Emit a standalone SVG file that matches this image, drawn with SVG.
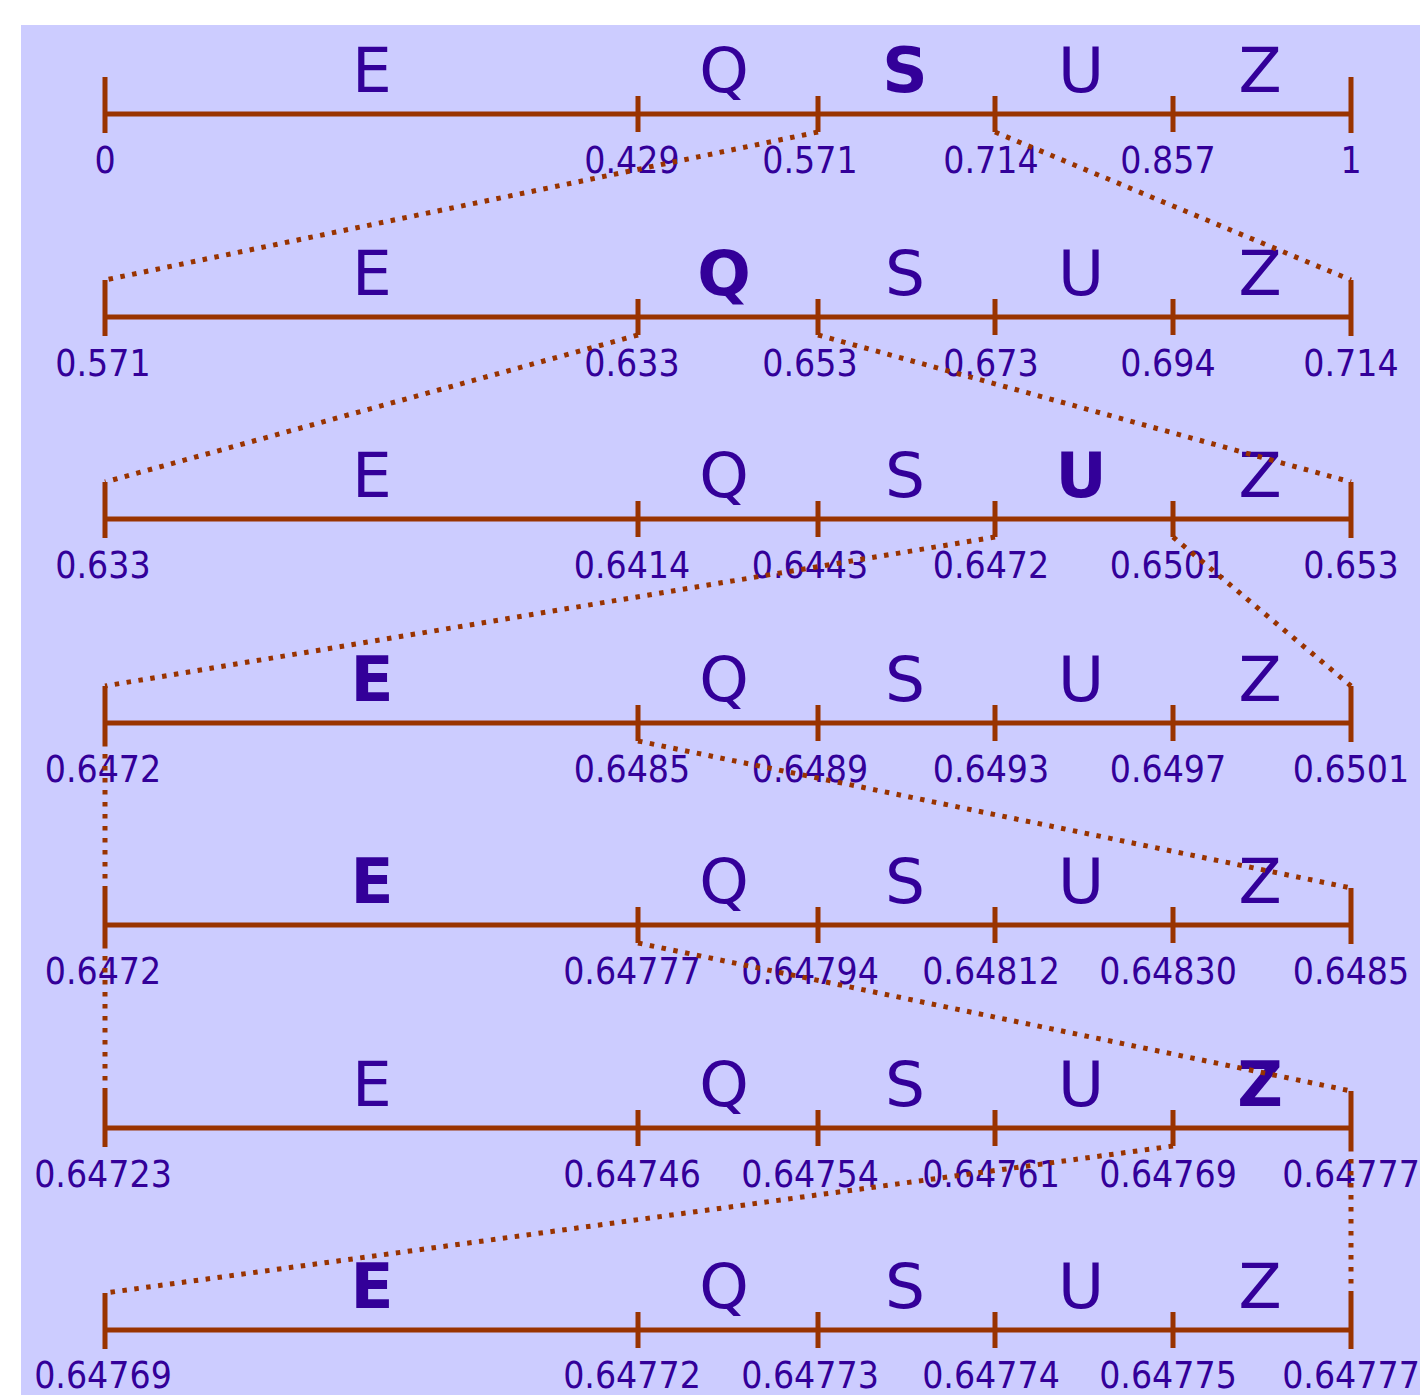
<svg xmlns="http://www.w3.org/2000/svg" width="1420" height="1395" viewBox="0 0 1420 1395">
<style>
.ax{stroke:#993300;stroke-width:5;fill:none;stroke-linecap:butt}
.lt{font-family:"DejaVu Sans",Verdana,sans-serif;font-size:63px;fill:#330099;text-anchor:middle}
.b{font-weight:bold}
.nm{font-family:"DejaVu Sans Condensed","DejaVu Sans",sans-serif;font-size:37px;fill:#330099;text-anchor:middle}
.dt{stroke:#993300;stroke-width:5;fill:none;stroke-dasharray:4.5 7.5}
</style>
<defs>
<g id="axis">
<path class="ax" d="M105 0H1351M105 -37V19M1351 -37V19M638 -18V18M818 -18V18M995 -18V18M1173 -18V18"/>
</g>
</defs>
<rect x="0" y="0" width="1420" height="1395" fill="#ffffff"/>
<rect x="21" y="25" width="1399" height="1370" fill="#ccccff"/>

<g id="row0" transform="translate(0,114)">
<use href="#axis"/>
<text class="lt" x="372" y="-22">E</text><text class="lt" x="724" y="-22">Q</text><text class="lt b" x="905" y="-22">S</text><text class="lt" x="1081" y="-22">U</text><text class="lt" x="1260" y="-22">Z</text>
<text class="nm" x="105" y="59">0</text><text class="nm" x="632" y="59">0.429</text><text class="nm" x="810" y="59">0.571</text><text class="nm" x="991" y="59">0.714</text><text class="nm" x="1168" y="59">0.857</text><text class="nm" x="1351" y="59">1</text>
</g>
<g id="row1" transform="translate(0,317)">
<use href="#axis"/>
<text class="lt" x="372" y="-22">E</text><text class="lt b" x="724" y="-22">Q</text><text class="lt" x="905" y="-22">S</text><text class="lt" x="1081" y="-22">U</text><text class="lt" x="1260" y="-22">Z</text>
<text class="nm" x="103" y="59">0.571</text><text class="nm" x="632" y="59">0.633</text><text class="nm" x="810" y="59">0.653</text><text class="nm" x="991" y="59">0.673</text><text class="nm" x="1168" y="59">0.694</text><text class="nm" x="1351" y="59">0.714</text>
</g>
<g id="row2" transform="translate(0,519)">
<use href="#axis"/>
<text class="lt" x="372" y="-22">E</text><text class="lt" x="724" y="-22">Q</text><text class="lt" x="905" y="-22">S</text><text class="lt b" x="1081" y="-22">U</text><text class="lt" x="1260" y="-22">Z</text>
<text class="nm" x="103" y="59">0.633</text><text class="nm" x="632" y="59">0.6414</text><text class="nm" x="810" y="59">0.6443</text><text class="nm" x="991" y="59">0.6472</text><text class="nm" x="1168" y="59">0.6501</text><text class="nm" x="1351" y="59">0.653</text>
</g>
<g id="row3" transform="translate(0,723)">
<use href="#axis"/>
<text class="lt b" x="372" y="-22">E</text><text class="lt" x="724" y="-22">Q</text><text class="lt" x="905" y="-22">S</text><text class="lt" x="1081" y="-22">U</text><text class="lt" x="1260" y="-22">Z</text>
<text class="nm" x="103" y="59">0.6472</text><text class="nm" x="632" y="59">0.6485</text><text class="nm" x="810" y="59">0.6489</text><text class="nm" x="991" y="59">0.6493</text><text class="nm" x="1168" y="59">0.6497</text><text class="nm" x="1351" y="59">0.6501</text>
</g>
<g id="row4" transform="translate(0,925)">
<use href="#axis"/>
<text class="lt b" x="372" y="-22">E</text><text class="lt" x="724" y="-22">Q</text><text class="lt" x="905" y="-22">S</text><text class="lt" x="1081" y="-22">U</text><text class="lt" x="1260" y="-22">Z</text>
<text class="nm" x="103" y="59">0.6472</text><text class="nm" x="632" y="59">0.64777</text><text class="nm" x="810" y="59">0.64794</text><text class="nm" x="991" y="59">0.64812</text><text class="nm" x="1168" y="59">0.64830</text><text class="nm" x="1351" y="59">0.6485</text>
</g>
<g id="row5" transform="translate(0,1128)">
<use href="#axis"/>
<text class="lt" x="372" y="-22">E</text><text class="lt" x="724" y="-22">Q</text><text class="lt" x="905" y="-22">S</text><text class="lt" x="1081" y="-22">U</text><text class="lt b" x="1260" y="-22">Z</text>
<text class="nm" x="103" y="59">0.64723</text><text class="nm" x="632" y="59">0.64746</text><text class="nm" x="810" y="59">0.64754</text><text class="nm" x="991" y="59">0.64761</text><text class="nm" x="1168" y="59">0.64769</text><text class="nm" x="1351" y="59">0.64777</text>
</g>
<g id="row6" transform="translate(0,1330)">
<use href="#axis"/>
<text class="lt b" x="372" y="-22">E</text><text class="lt" x="724" y="-22">Q</text><text class="lt" x="905" y="-22">S</text><text class="lt" x="1081" y="-22">U</text><text class="lt" x="1260" y="-22">Z</text>
<text class="nm" x="103" y="58">0.64769</text><text class="nm" x="632" y="58">0.64772</text><text class="nm" x="810" y="58">0.64773</text><text class="nm" x="991" y="58">0.64774</text><text class="nm" x="1168" y="58">0.64775</text><text class="nm" x="1351" y="58">0.64777</text>
</g>

<g id="connectors">
<path class="dt" d="M818 132L105 280"/>
<path class="dt" d="M995 132L1351 280"/>
<path class="dt" d="M638 335L105 482"/>
<path class="dt" d="M818 335L1351 482"/>
<path class="dt" d="M995 537L105 686"/>
<path class="dt" d="M1173 537L1351 686"/>
<path class="dt" d="M105 742L105 888"/>
<path class="dt" d="M638 741L1351 888"/>
<path class="dt" d="M105 944L105 1091"/>
<path class="dt" d="M638 943L1351 1091"/>
<path class="dt" d="M1173 1146L105 1293"/>
<path class="dt" d="M1351 1147L1351 1293"/>
</g>
</svg>
